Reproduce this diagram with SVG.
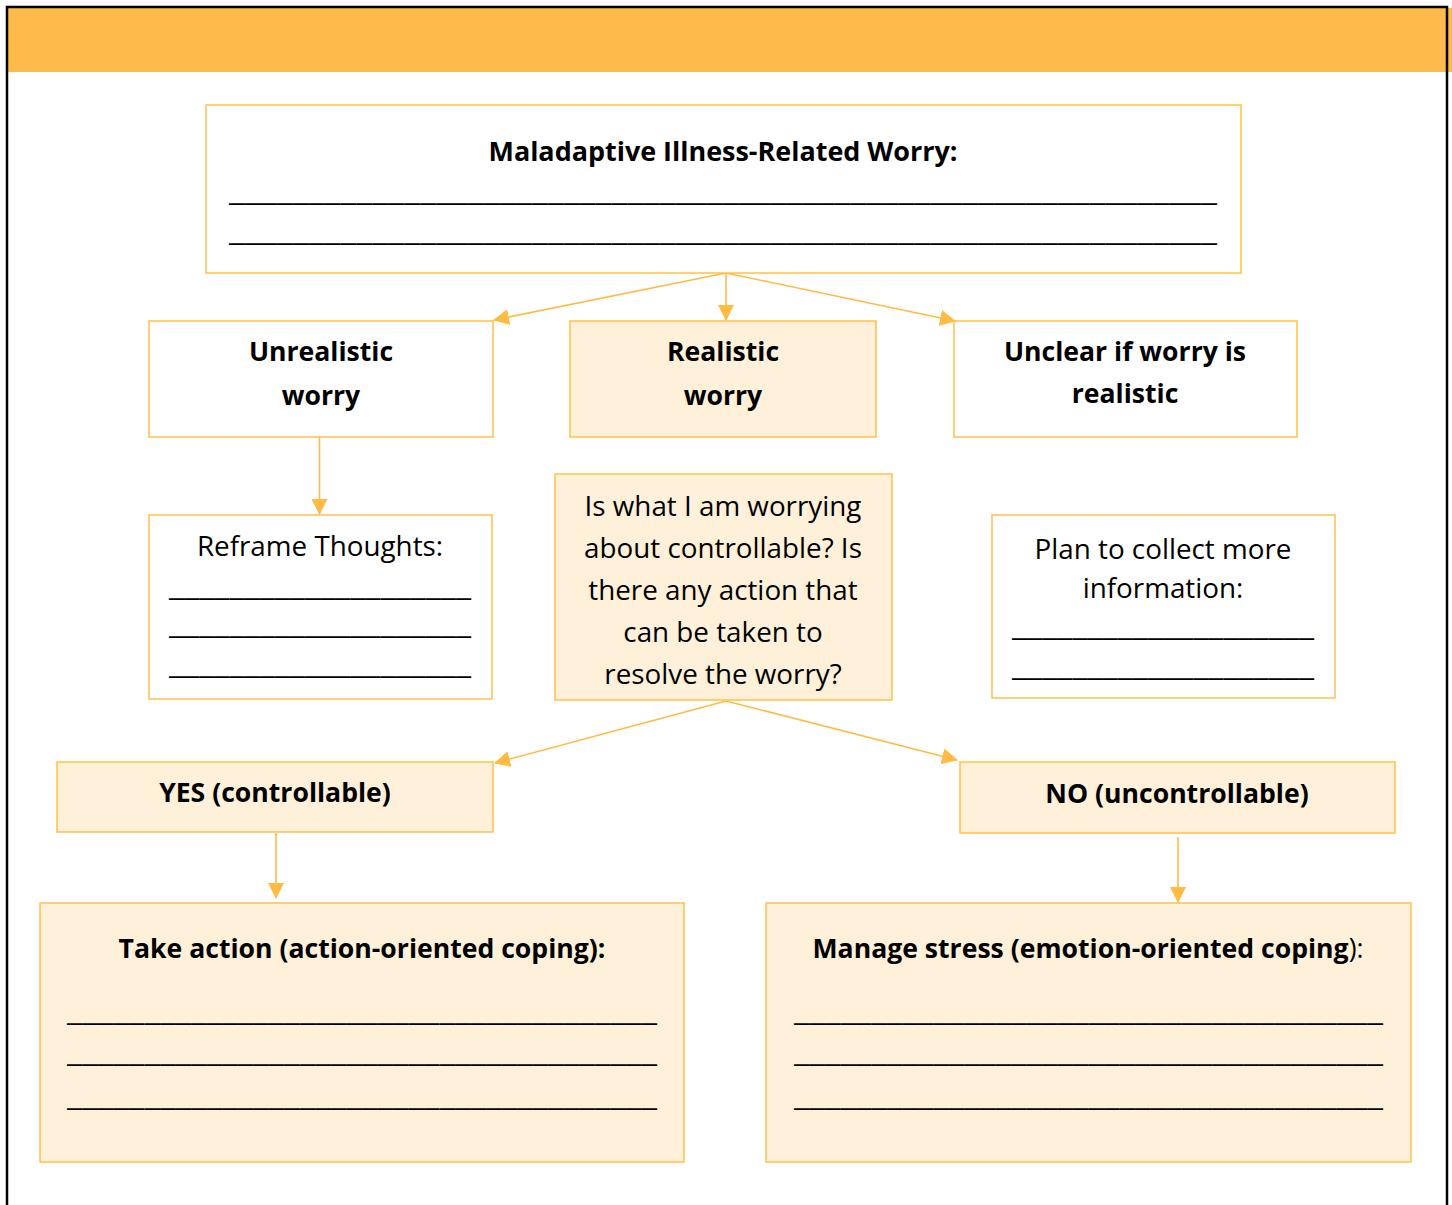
<svg xmlns="http://www.w3.org/2000/svg" width="1452" height="1205" viewBox="0 0 1452 1205">
<defs>
<marker id="ah" viewBox="0 0 16 16" refX="15" refY="8" markerWidth="16" markerHeight="16" markerUnits="userSpaceOnUse" orient="auto">
<path d="M0,0 L16,8 L0,16 Z" fill="#FFBB44"/>
</marker>
</defs>
<style>
.box{stroke:#FFC04D;stroke-width:1.5}
.w{fill:#FFFFFF}
.c{fill:#FEF0D9}
.t{font-family:"Open Sans","Noto Sans","Liberation Sans",sans-serif;fill:#000;text-anchor:middle}
.b{font-weight:bold;font-size:26.6px}
.r{font-size:27.8px}
.u{font-family:"Open Sans","Liberation Sans",sans-serif;fill:#000;font-size:27px;font-weight:bold}
.cn{stroke:#FFBB44;stroke-width:1.6;fill:none;marker-end:url(#ah)}
</style>
<rect x="0" y="0" width="1452" height="1205" fill="#FFFFFF"/>
<rect x="8" y="8" width="1444" height="64" fill="#FFBB4A"/>
<rect x="7" y="7" width="1440" height="1230" fill="none" stroke="#000" stroke-width="2.5"/>
<g id="connectors">
<line class="cn" x1="726" y1="273" x2="494" y2="320"/>
<line class="cn" x1="726" y1="273" x2="726" y2="320"/>
<line class="cn" x1="726" y1="273" x2="955" y2="321"/>
<line class="cn" x1="319.5" y1="432" x2="319.5" y2="514"/>
<line class="cn" x1="726" y1="701" x2="495" y2="763"/>
<line class="cn" x1="726" y1="701" x2="957" y2="760"/>
<line class="cn" x1="276" y1="833" x2="276" y2="898"/>
<line class="cn" x1="1178" y1="837" x2="1178" y2="902"/>
</g>
<g id="n-worry">
<rect class="box w" x="206" y="105" width="1035" height="168"/>
<text class="t b" x="723" y="161" font-size="27px" textLength="469" lengthAdjust="spacingAndGlyphs">Maladaptive Illness-Related Worry:</text>
<text class="u" x="229" y="201" textLength="988" lengthAdjust="spacingAndGlyphs">______________________________________________________________</text>
<text class="u" x="229" y="241" textLength="988" lengthAdjust="spacingAndGlyphs">______________________________________________________________</text>
</g>
<g id="n-unrealistic">
<rect class="box w" x="149" y="321" width="344" height="116"/>
<text class="t b" x="321" y="361">Unrealistic</text>
<text class="t b" x="321" y="405">worry</text>
</g>
<g id="n-realistic">
<rect class="box c" x="570" y="321" width="306" height="116"/>
<text class="t b" x="723" y="361">Realistic</text>
<text class="t b" x="723" y="405">worry</text>
</g>
<g id="n-unclear">
<rect class="box w" x="954" y="321" width="343" height="116"/>
<text class="t b" x="1125" y="361">Unclear if worry is</text>
<text class="t b" x="1125" y="403">realistic</text>
</g>
<g id="n-reframe">
<rect class="box w" x="149" y="515" width="343" height="184"/>
<text class="t r" x="320" y="556">Reframe Thoughts:</text>
<text class="u" x="169" y="596" textLength="302" lengthAdjust="spacingAndGlyphs">____________________</text>
<text class="u" x="169" y="634" textLength="302" lengthAdjust="spacingAndGlyphs">____________________</text>
<text class="u" x="169" y="674" textLength="302" lengthAdjust="spacingAndGlyphs">____________________</text>
</g>
<g id="n-question">
<rect class="box c" x="555" y="474" width="337" height="226"/>
<text class="t r" x="723" y="516">Is what I am worrying</text>
<text class="t r" x="723" y="558">about controllable? Is</text>
<text class="t r" x="723" y="600">there any action that</text>
<text class="t r" x="723" y="642">can be taken to</text>
<text class="t r" x="723" y="684">resolve the worry?</text>
</g>
<g id="n-plan">
<rect class="box w" x="992" y="515" width="343" height="183"/>
<text class="t r" x="1163" y="559">Plan to collect more</text>
<text class="t r" x="1163" y="598">information:</text>
<text class="u" x="1012" y="636" textLength="302" lengthAdjust="spacingAndGlyphs">____________________</text>
<text class="u" x="1012" y="676" textLength="302" lengthAdjust="spacingAndGlyphs">____________________</text>
</g>
<g id="n-yes">
<rect class="box c" x="57" y="762" width="436" height="70"/>
<text class="t b" x="275" y="802">YES (controllable)</text>
</g>
<g id="n-no">
<rect class="box c" x="960" y="762" width="435" height="71"/>
<text class="t b" x="1177" y="803">NO (uncontrollable)</text>
</g>
<g id="n-action">
<rect class="box c" x="40" y="903" width="644" height="259"/>
<text class="t b" x="362" y="958">Take action (action-oriented coping):</text>
<text class="u" x="67" y="1021" textLength="590" lengthAdjust="spacingAndGlyphs">______________________________________</text>
<text class="u" x="67" y="1062" textLength="590" lengthAdjust="spacingAndGlyphs">______________________________________</text>
<text class="u" x="67" y="1106" textLength="590" lengthAdjust="spacingAndGlyphs">______________________________________</text>
</g>
<g id="n-stress">
<rect class="box c" x="766" y="903" width="645" height="259"/>
<text class="t b" x="1088" y="958">Manage stress (emotion-oriented coping<tspan font-weight="normal">):</tspan></text>
<text class="u" x="794" y="1021" textLength="589" lengthAdjust="spacingAndGlyphs">______________________________________</text>
<text class="u" x="794" y="1062" textLength="589" lengthAdjust="spacingAndGlyphs">______________________________________</text>
<text class="u" x="794" y="1106" textLength="589" lengthAdjust="spacingAndGlyphs">______________________________________</text>
</g>
</svg>
